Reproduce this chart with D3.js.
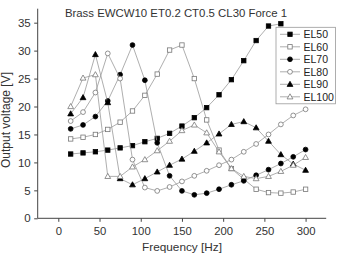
<!DOCTYPE html>
<html><head><meta charset="utf-8">
<script src="https://cdn.jsdelivr.net/npm/d3@7/dist/d3.min.js"></script>
<style>body{margin:0;background:#fff}svg{display:block;font-family:"Liberation Sans",Arial,sans-serif}</style>
</head><body><svg id="c" width="340" height="254"></svg>
<script>
const freq = [15,30,45,60,75,90,105,120,135,150,165,180,195,210,225,240,255,270,285,300];
const el50 = [11.5,11.7,11.9,12.2,12.6,13.0,13.7,14.3,15.2,16.5,18.0,19.8,22.1,24.8,28.2,31.8,34.4,34.8];
const el60 = [14.2,14.5,15.0,15.9,17.2,19.2,22.0,25.8,30.1,31.0,25.0,17.6,12.2,8.9,7.0,5.2,4.6,4.5,4.7,5.2];
const el70 = [16.0,16.7,18.2,21.0,25.7,31.0,24.7,13.5,7.6,4.9,4.2,4.5,5.2,6.0,6.7,7.7,8.7,9.8,11.0,12.3];
const el80 = [17.4,19.0,22.5,29.5,25.0,10.5,5.5,4.9,5.6,6.6,7.6,8.5,9.5,10.5,11.9,13.3,15.0,16.8,18.4,19.5];
const el90 = [18.7,21.6,29.3,20.7,7.1,6.0,7.1,8.3,9.5,10.6,12.0,13.5,15.1,16.8,17.3,16.2,13.8,11.4,9.7,8.6];
const el100 = [20.0,25.1,25.7,7.5,7.5,9.2,10.5,12.1,13.8,15.7,16.7,15.3,11.9,8.9,7.5,7.1,7.5,8.4,9.5,10.9];
const seriesNames = ["EL50","EL60","EL70","EL80","EL90","EL100"];
const seriesValues = [el50,el60,el70,el80,el90,el100];
const markerShapes = ["square","square","circle","circle","triangle","triangle"];
const markerFilled = [true,false,true,false,true,false];
const xTicks = [0,50,100,150,200,250,300];
const yTicks = [0,5,10,15,20,25,30,35];
const titleText = "Brass EWCW10 ET0.2 CT0.5 CL30 Force 1";

const svg = d3.select("#c");
const x = d3.scaleLinear().domain([-25,325]).range([37.7,326.2]);
const y = d3.scaleLinear().domain([0,37.5]).range([218.3,8.7]);
const axisCol = "#444";

const gx = svg.append("g").attr("transform","translate(0,218.3)");
gx.call(d3.axisBottom(x).tickValues(d3.range(-25,326,25)).tickSize(2).tickFormat(""));
gx.call(d3.axisBottom(x).tickValues(xTicks).tickSize(3.5).tickFormat(d3.format("d")));
gx.selectAll("path,line").attr("stroke",axisCol);
gx.selectAll("text").attr("fill","#333").attr("font-size",11.3).attr("y",9).attr("dy","0.71em");
gx.select(".domain").attr("d","M37.7,0H326.2");

const gy = svg.append("g").attr("transform","translate(37.7,0)");
gy.call(d3.axisLeft(y).tickValues(d3.range(0,37.6,2.5)).tickSize(2).tickFormat(""));
gy.call(d3.axisLeft(y).tickValues(yTicks).tickSize(3.5).tickFormat(d3.format("d")));
gy.selectAll("path,line").attr("stroke",axisCol);
gy.selectAll("text").attr("fill","#333").attr("font-size",11.5).attr("x",-7);
gy.select(".domain").attr("d","M0,218.3V8.7");
svg.selectAll(".domain").attr("stroke-width",1);

svg.append("text").attr("x",176).attr("y",17.3).attr("text-anchor","middle")
  .attr("font-size",11.4).attr("fill","#333").text(titleText);
svg.append("text").attr("x",182).attr("y",250.5).attr("text-anchor","middle")
  .attr("font-size",11.8).attr("fill","#333").text("Frequency [Hz]");
svg.append("text").attr("transform","translate(10.3,120) rotate(-90)").attr("text-anchor","middle")
  .attr("font-size",12).attr("fill","#333").text("Output voltage [V]");

function marker(g, shape, filled, cx, cy){
  const fill = filled ? "#000" : "#fff";
  const stroke = filled ? "#000" : "#777";
  if(shape==="square") g.append("rect").attr("x",cx-2.2).attr("y",cy-2.2).attr("width",4.4).attr("height",4.4).attr("fill",fill).attr("stroke",stroke).attr("stroke-width",0.8);
  else if(shape==="circle") g.append("circle").attr("cx",cx).attr("cy",cy).attr("r",2.4).attr("fill",fill).attr("stroke",stroke).attr("stroke-width",0.8);
  else g.append("path").attr("d",`M${cx},${cy-3}L${cx+2.9},${cy+2.1}L${cx-2.9},${cy+2.1}Z`).attr("fill",fill).attr("stroke",stroke).attr("stroke-width",0.8);
}

const line = d3.line().x(d=>x(d[0])).y(d=>y(d[1]));
seriesValues.forEach((vals,i)=>{
  const pts = vals.map((v,j)=>[freq[j],v]);
  const g = svg.append("g");
  g.append("path").attr("d",line(pts)).attr("fill","none").attr("stroke","#999").attr("stroke-width",0.8);
  pts.forEach(p=>marker(g, markerShapes[i], markerFilled[i], x(p[0]), y(p[1])));
});

const lg = svg.append("g");
lg.append("rect").attr("x",276).attr("y",27.3).attr("width",59.5).attr("height",76.5).attr("fill","#fff").attr("stroke","#999").attr("stroke-width",0.8);
seriesNames.forEach((n,i)=>{
  const ly = 34.3 + i*12.5;
  lg.append("line").attr("x1",280).attr("x2",300).attr("y1",ly).attr("y2",ly).attr("stroke","#999").attr("stroke-width",0.8);
  marker(lg, markerShapes[i], markerFilled[i], 290, ly);
  lg.append("text").attr("x",303.5).attr("y",ly+3.7).attr("font-size",10.5).attr("fill","#222").text(n);
});
</script></body></html>
